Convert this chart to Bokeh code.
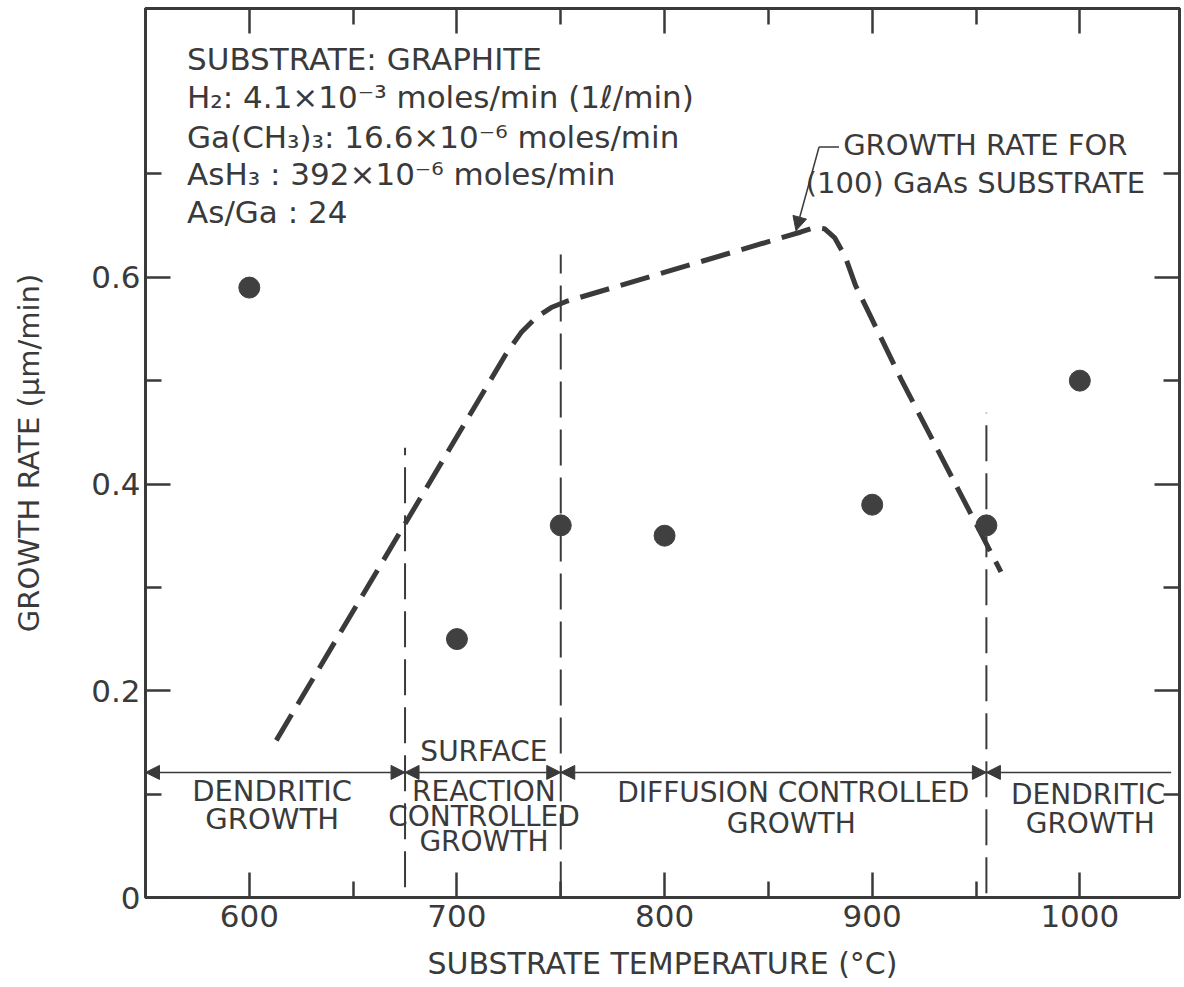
from bokeh.plotting import figure
from bokeh.models import FixedTicker, LinearAxis, Range1d, Label, Arrow, NormalHead
from bokeh.embed import file_html
from bokeh.resources import INLINE

# ---------------- data ----------------
# measured growth rate on graphite substrate
temp_c = [600, 700, 750, 800, 900, 955, 1000]
rate_graphite = [0.59, 0.25, 0.36, 0.35, 0.38, 0.36, 0.50]

# growth-rate curve for (100) GaAs substrate
gaas_temp = [613, 723.7, 730.9, 738.1, 745.4, 752.6, 865.7, 872, 877, 882, 887, 892, 914, 962]
gaas_rate = [0.152, 0.526, 0.5465, 0.561, 0.5707, 0.5766, 0.6438, 0.648, 0.647, 0.638, 0.620, 0.592, 0.501, 0.315]

# regime boundaries (vertical dashed lines)
regime_bounds = [675, 750, 955]
bound_bottoms = [0.01, 0.0, 0.004]
bound_tops = [0.435, 0.622, 0.469]

# ticks
x_major = [600, 700, 800, 900, 1000]
x_minor = [650, 750, 850, 950]
y_major = [0, 0.2, 0.4, 0.6]
y_minor = [0.1, 0.3, 0.5, 0.7]
y_tick_labels = {0: "0", 0.2: "0.2", 0.4: "0.4", 0.6: "0.6"}

INK = "#3a3a3a"
FONT = "DejaVu Sans"

p = figure(width=1182, height=985, output_backend="svg", toolbar_location=None,
           x_range=Range1d(550, 1048), y_range=Range1d(0, 0.86),
           min_border_left=145, min_border_right=3, min_border_top=8, min_border_bottom=88,
           background_fill_color="white", border_fill_color="white")
p.grid.visible = False
p.outline_line_color = INK
p.outline_line_width = 3


def style_axis(ax, ticks, minor, show_labels):
    ax.ticker = FixedTicker(ticks=ticks, minor_ticks=minor)
    ax.axis_line_color = INK
    ax.axis_line_width = 3
    ax.major_tick_line_color = INK
    ax.major_tick_line_width = 2.5
    ax.minor_tick_line_color = INK
    ax.minor_tick_line_width = 2.5
    ax.major_tick_in = 25
    ax.major_tick_out = 0
    ax.minor_tick_in = 16
    ax.minor_tick_out = 0
    if not show_labels:
        ax.major_label_text_font_size = "0px"
        ax.major_label_standoff = 0
        ax.major_label_text_color = None


xb = p.xaxis[0]
style_axis(xb, x_major, x_minor, True)
xb.major_label_text_font = FONT
xb.major_label_text_font_size = "31px"
xb.major_label_text_color = INK
xb.major_label_standoff = 7
xb.axis_label = "SUBSTRATE TEMPERATURE (°C)"
xb.axis_label_text_font = FONT
xb.axis_label_text_font_size = "30px"
xb.axis_label_text_font_style = "normal"
xb.axis_label_text_color = INK
xb.axis_label_standoff = 16

yl = p.yaxis[0]
style_axis(yl, y_major, y_minor, True)
yl.major_label_overrides = y_tick_labels
yl.major_label_text_font = FONT
yl.major_label_text_font_size = "31px"
yl.major_label_text_color = INK
yl.major_label_standoff = 5
yl.axis_label = "GROWTH RATE (μm/min)"
yl.axis_label_text_font = FONT
yl.axis_label_text_font_size = "29px"
yl.axis_label_text_font_style = "normal"
yl.axis_label_text_color = INK
yl.axis_label_standoff = 42

top_ax = LinearAxis()
style_axis(top_ax, x_major, x_minor, False)
p.add_layout(top_ax, "above")

right_ax = LinearAxis()
style_axis(right_ax, y_major, y_minor, False)
p.add_layout(right_ax, "right")

# regime boundaries
p.segment(x0=regime_bounds, y0=bound_bottoms, x1=regime_bounds, y1=bound_tops,
          line_color=INK, line_width=2, line_dash="36 12")

# GaAs reference curve
p.line(gaas_temp, gaas_rate, line_color=INK, line_width=5, line_dash="30 12")

# measured points
p.scatter(temp_c, rate_graphite, size=21, fill_color="#404040", line_color="#404040")

# regime arrows along the bottom
arrow_y = 0.121
edges = [550] + regime_bounds + [1044]
for i in range(len(edges) - 1):
    start_head = NormalHead(size=14, fill_color=INK, line_color=INK)
    end_head = NormalHead(size=14, fill_color=INK, line_color=INK) if i < len(edges) - 2 else None
    p.add_layout(Arrow(x_start=edges[i], y_start=arrow_y, x_end=edges[i + 1], y_end=arrow_y,
                       start=start_head, end=end_head, line_color=INK, line_width=1.5))


def txt(x, y, s, size="28px", align="center"):
    p.add_layout(Label(x=x, y=y, text=s, text_font=FONT, text_font_size=size,
                       text_color=INK, text_align=align, text_baseline="middle"))


# regime labels
txt(611, 0.1027, "DENDRITIC", size="29px")
txt(611, 0.0756, "GROWTH", size="29px")
txt(713, 0.1415, "SURFACE")
txt(713, 0.1027, "REACTION")
txt(713, 0.0785, "CONTROLLED")
txt(713, 0.0543, "GROWTH")
txt(862, 0.1017, "DIFFUSION CONTROLLED")
txt(861, 0.0717, "GROWTH")
txt(1004, 0.0998, "DENDRITIC")
txt(1005, 0.0717, "GROWTH")

# conditions block
cond_lines = [
    "SUBSTRATE: GRAPHITE",
    "H₂: 4.1×10⁻³ moles/min (1ℓ/min)",
    "Ga(CH₃)₃: 16.6×10⁻⁶ moles/min",
    "AsH₃ : 392×10⁻⁶ moles/min",
    "As/Ga : 24",
]
cond_y = [0.811, 0.774, 0.736, 0.700, 0.663]
for s, yy in zip(cond_lines, cond_y):
    txt(570, yy, s, size="31px", align="left")

# GaAs curve annotation
txt(886, 0.728, "GROWTH RATE FOR", size="29px", align="left")
txt(868, 0.691, "(100) GaAs SUBSTRATE", size="29px", align="left")
p.segment(x0=[874.4], y0=[0.726], x1=[884.0], y1=[0.726], line_color=INK, line_width=1.5)
p.add_layout(Arrow(x_start=874.4, y_start=0.726, x_end=863.3, y_end=0.645,
                   end=NormalHead(size=14, fill_color=INK, line_color=INK),
                   line_color=INK, line_width=1.5))

open("out.html", "w").write(file_html(p, INLINE))
